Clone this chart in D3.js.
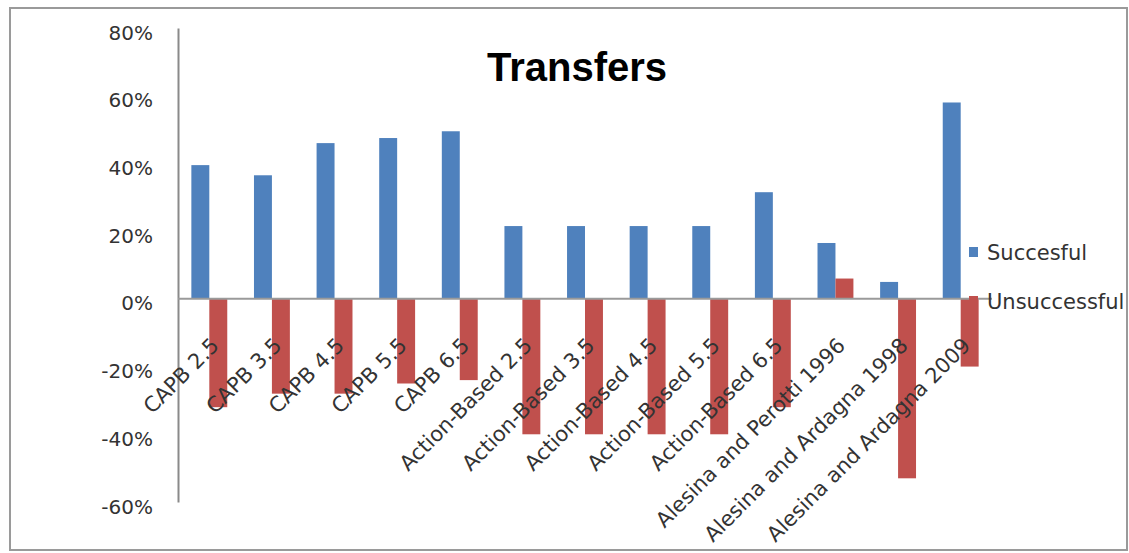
<!DOCTYPE html>
<html>
<head>
<meta charset="utf-8">
<script src="https://cdn.jsdelivr.net/npm/d3@7"></script>
<style>
  html, body { margin: 0; padding: 0; background: #ffffff; }
  svg { display: block; }
</style>
</head>
<body>
<svg id="chart" width="1129" height="553"></svg>
<script>
const categories = [
  "CAPB 2.5", "CAPB 3.5", "CAPB 4.5", "CAPB 5.5", "CAPB 6.5",
  "Action-Based 2.5", "Action-Based 3.5", "Action-Based 4.5", "Action-Based 5.5", "Action-Based 6.5",
  "Alesina and Perotti 1996", "Alesina and Ardagna 1998", "Alesina and Ardagna 2009"
];
const seriesNames = ["Succesful", "Unsuccessful"];
const succesful =    [0.395, 0.365, 0.46, 0.475, 0.495, 0.215, 0.215, 0.215, 0.215, 0.315, 0.165, 0.05, 0.58];
const unsuccessful = [-0.32, -0.28, -0.28, -0.25, -0.24, -0.40, -0.40, -0.40, -0.40, -0.32, 0.06, -0.53, -0.20];
const yTicks = [0.8, 0.6, 0.4, 0.2, 0, -0.2, -0.4, -0.6];
const title = "Transfers";

const colors = { "Succesful": "#4F81BD", "Unsuccessful": "#C0504D" };
const font = "'DejaVu Sans', sans-serif";

const svg = d3.select("#chart");

// outer frame
svg.append("rect")
  .attr("x", 10).attr("y", 8).attr("width", 1117).attr("height", 542)
  .attr("fill", "#ffffff").attr("stroke", "#9a9a9a").attr("stroke-width", 2);

const plot = { left: 178, right: 992, top: 28, bottom: 502 };

const y = d3.scaleLinear().domain([-0.6, 0.8]).range([plot.bottom, plot.top]);
const x0 = d3.scaleBand().domain(categories).range([plot.left, plot.right]).padding(0);
const x1 = d3.scaleBand().domain(seriesNames).range([0, x0.bandwidth()])
  .paddingInner(0).paddingOuter(0.744);

const rows = categories.map((c, i) => ({
  cat: c,
  vals: [
    { s: "Succesful", v: succesful[i] },
    { s: "Unsuccessful", v: unsuccessful[i] }
  ]
}));

// bars
const g = svg.append("g");
g.selectAll("g.cat").data(rows).join("g")
  .attr("class", "cat")
  .attr("transform", d => `translate(${x0(d.cat)},0)`)
  .selectAll("rect").data(d => d.vals).join("rect")
  .attr("x", d => x1(d.s))
  .attr("width", x1.bandwidth())
  .attr("y", d => y(Math.max(0, d.v)))
  .attr("height", d => Math.abs(y(d.v) - y(0)))
  .attr("fill", d => colors[d.s]);

// y axis
const pct = d => Math.round(d * 100) + "%";
const yAxis = d3.axisLeft(y).tickValues(yTicks)
  .tickFormat(pct).tickSize(0).tickPadding(25);
const ya = svg.append("g").attr("transform", `translate(${plot.left},0)`).call(yAxis);
ya.select(".domain").attr("stroke", "#8a8a8a").attr("stroke-width", 2);
ya.selectAll("text")
  .attr("font-family", font).attr("font-size", 20).attr("fill", "#333333")
  .attr("dy", "0.55em");

// zero line
svg.append("line")
  .attr("x1", plot.left).attr("x2", plot.right)
  .attr("y1", y(0)).attr("y2", y(0))
  .attr("stroke", "#9a9a9a").attr("stroke-width", 2);

// category labels
svg.append("g").selectAll("text").data(categories).join("text")
  .attr("transform", d => `translate(${x0(d) + x0.bandwidth() / 2 + 11},${y(0) + 48}) rotate(-45)`)
  .attr("text-anchor", "end")
  .attr("font-family", font).attr("font-size", 21).attr("fill", "#333333")
  .text(d => d);

// title
svg.append("text")
  .attr("x", 577).attr("y", 81)
  .attr("text-anchor", "middle")
  .attr("font-family", "'Liberation Sans', Arial, sans-serif")
  .attr("font-weight", "bold").attr("font-size", 40).attr("fill", "#000000")
  .text(title);

// legend
const legendY = [252, 301];
const lg = svg.append("g").selectAll("g").data(seriesNames).join("g")
  .attr("transform", (d, i) => `translate(969,${legendY[i]})`);
lg.append("rect").attr("x", 0).attr("y", -5).attr("width", 9).attr("height", 10)
  .attr("fill", d => colors[d]);
lg.append("text").attr("x", 18).attr("y", 0).attr("dy", "0.36em")
  .attr("font-family", font).attr("font-size", 21).attr("fill", "#333333")
  .text(d => d);
</script>
</body>
</html>
